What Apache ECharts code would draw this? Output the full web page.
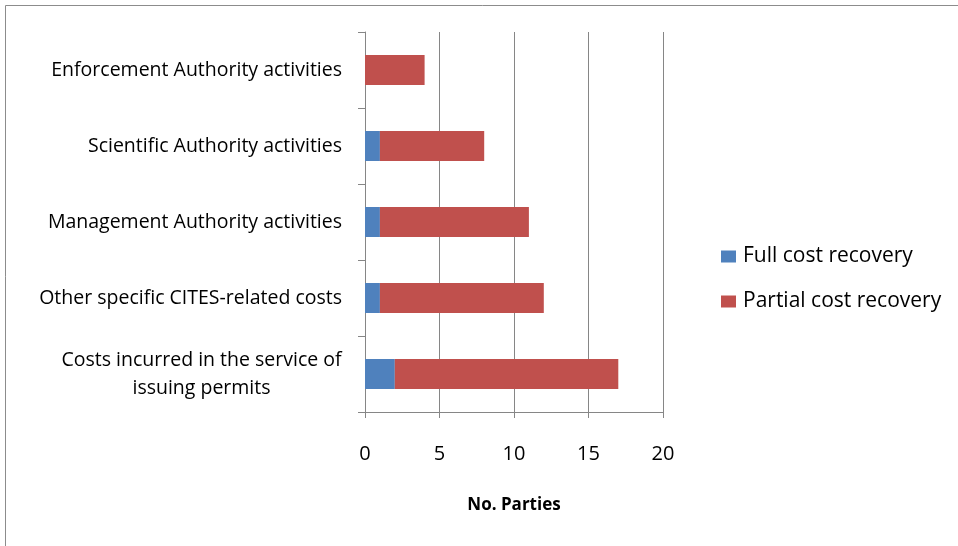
<!DOCTYPE html>
<html>
<head>
<meta charset="utf-8">
<script src="https://cdn.jsdelivr.net/npm/echarts@6/dist/echarts.min.js"></script>
<style>
  html, body { margin: 0; padding: 0; background: #fff; }
  #chart { width: 958px; height: 546px; }
</style>
</head>
<body>
<div id="chart"></div>
<script>
// Cost-recovery categories, listed top to bottom
const categories = [
  'Enforcement Authority activities',
  'Scientific Authority activities',
  'Management Authority activities',
  'Other specific CITES-related costs',
  'Costs incurred in the service of\nissuing permits'
];
const fullRecovery = [0, 1, 1, 1, 2];
const partialRecovery = [4, 7, 10, 11, 15];
const xTicks = [0, 5, 10, 15, 20];

const FONT = 'Open Sans';
const LABEL_SIZE = 19.5;

// width of the widest line of a wrapped label, so its lines can be centred
function widestLine(text, size) {
  const ctx = document.createElement('canvas').getContext('2d');
  ctx.font = size + 'px "' + FONT + '"';
  return Math.ceil(Math.max.apply(null, text.split('\n').map(function (l) {
    return ctx.measureText(l).width;
  })));
}

const chart = echarts.init(document.getElementById('chart'));

chart.setOption({
  animation: false,
  backgroundColor: '#ffffff',
  graphic: [{
    type: 'polyline',
    shape: { points: [[5.5, 600], [5.5, 5.5], [1000, 5.5]] },
    style: { stroke: '#8c8c8c', lineWidth: 1, fill: null }
  }],
  grid: { left: 365, right: 295, top: 32, bottom: 134 },
  legend: {
    orient: 'vertical',
    left: 716,
    top: 241,
    itemWidth: 15,
    itemHeight: 12,
    itemGap: 24,
    icon: 'rect',
    textStyle: { fontFamily: FONT, fontSize: 21, color: '#000', padding: [0, 0, 0, 2] },
    data: ['Full cost recovery', 'Partial cost recovery']
  },
  xAxis: {
    type: 'value',
    min: xTicks[0],
    max: xTicks[xTicks.length - 1],
    interval: 5,
    name: 'No. Parties',
    nameLocation: 'middle',
    nameGap: 85,
    nameTextStyle: { fontFamily: FONT, fontSize: 17, fontWeight: 'bold', color: '#000' },
    axisLine: { show: true, lineStyle: { color: '#868686' } },
    axisTick: { show: true, length: 6, lineStyle: { color: '#868686' } },
    axisLabel: { fontFamily: FONT, fontSize: 20, color: '#000', margin: 32 },
    splitLine: { show: true, lineStyle: { color: '#868686' } }
  },
  yAxis: {
    type: 'category',
    inverse: true,
    data: categories,
    axisLine: { show: true, lineStyle: { color: '#868686' } },
    axisTick: { show: true, length: 7, alignWithLabel: false, lineStyle: { color: '#868686' } },
    axisLabel: {
      fontFamily: FONT,
      fontSize: LABEL_SIZE,
      color: '#000',
      margin: 23,
      lineHeight: 28,
      formatter: function (v) {
        return v.indexOf('\n') >= 0 ? '{c|' + v + '}' : v;
      },
      rich: {
        c: {
          fontFamily: FONT, fontSize: LABEL_SIZE, color: '#000', lineHeight: 28,
          width: widestLine(categories[4], LABEL_SIZE), align: 'center'
        }
      }
    }
  },
  series: [
    {
      name: 'Full cost recovery',
      type: 'bar',
      stack: 'total',
      barWidth: 30,
      itemStyle: { color: '#4F81BD' },
      data: fullRecovery
    },
    {
      name: 'Partial cost recovery',
      type: 'bar',
      stack: 'total',
      barWidth: 30,
      itemStyle: { color: '#C0504D' },
      data: partialRecovery
    }
  ]
});
</script>
</body>
</html>
